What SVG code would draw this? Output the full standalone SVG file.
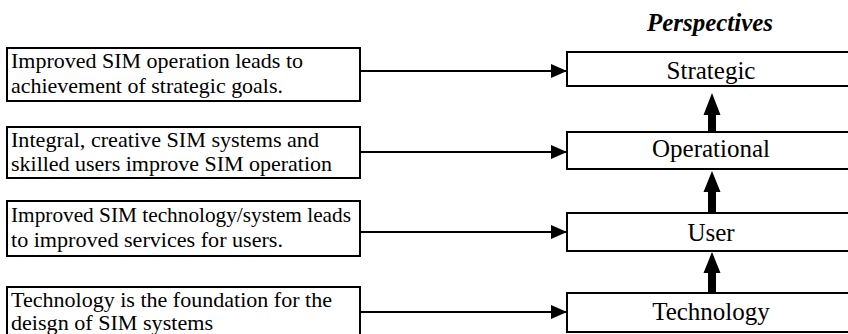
<svg xmlns="http://www.w3.org/2000/svg" width="848" height="334" viewBox="0 0 848 334">
<defs>
<style>
.box{fill:#fff;stroke:#000;stroke-width:2}
text{font-family:"Liberation Serif","Tinos","Nimbus Roman","Times New Roman","DejaVu Serif",serif;fill:#000}
.lt{font-size:22px}
.rt{font-size:25px;text-anchor:middle}
.hd{font-size:25px;font-weight:bold;font-style:italic;text-anchor:middle}
.ln{stroke:#000;stroke-width:2;fill:none}
.up{fill:#000}
</style>
<marker id="ah" markerWidth="16" markerHeight="14" refX="16" refY="7" orient="auto" markerUnits="userSpaceOnUse">
<path d="M0,0 L16,7 L0,14 Z" fill="#000"/>
</marker>
</defs>
<rect width="848" height="334" fill="#fff"/>
<text class="hd" x="710" y="31" textLength="126" lengthAdjust="spacingAndGlyphs">Perspectives</text>
<g id="d1"><rect class="box" x="7" y="48" width="353" height="53"/><text class="lt" x="11" y="68" textLength="292" lengthAdjust="spacingAndGlyphs">Improved SIM operation leads to</text><text class="lt" x="11" y="93" textLength="272" lengthAdjust="spacingAndGlyphs">achievement of strategic goals.</text></g>
<g id="d2"><rect class="box" x="7" y="127" width="353" height="51"/><text class="lt" x="11" y="147" textLength="308" lengthAdjust="spacingAndGlyphs">Integral, creative SIM systems and</text><text class="lt" x="11" y="171" textLength="321" lengthAdjust="spacingAndGlyphs">skilled users improve SIM operation</text></g>
<g id="d3"><rect class="box" x="7" y="201" width="353" height="55"/><text class="lt" x="11" y="222" textLength="340" lengthAdjust="spacingAndGlyphs">Improved SIM technology/system leads</text><text class="lt" x="11" y="247" textLength="272" lengthAdjust="spacingAndGlyphs">to improved services for users.</text></g>
<g id="d4"><rect class="box" x="7" y="287" width="353" height="52"/><text class="lt" x="11" y="307" textLength="321" lengthAdjust="spacingAndGlyphs">Technology is the foundation for the</text><text class="lt" x="11" y="330" textLength="202" lengthAdjust="spacingAndGlyphs">deisgn of SIM systems</text></g>
<g id="strategic"><rect class="box" x="567" y="52" width="290" height="34"/><text class="rt" x="711" y="79">Strategic</text></g>
<g id="operational"><rect class="box" x="567" y="132" width="290" height="37"/><text class="rt" x="711" y="157">Operational</text></g>
<g id="user"><rect class="box" x="567" y="213" width="290" height="38"/><text class="rt" x="711" y="241">User</text></g>
<g id="technology"><rect class="box" x="567" y="293" width="290" height="39"/><text class="rt" x="711" y="320">Technology</text></g>
<g id="connectors">
<line class="ln" x1="360" y1="71" x2="567" y2="71" marker-end="url(#ah)"/>
<line class="ln" x1="360" y1="152" x2="567" y2="152" marker-end="url(#ah)"/>
<line class="ln" x1="360" y1="232" x2="567" y2="232" marker-end="url(#ah)"/>
<line class="ln" x1="360" y1="312" x2="567" y2="312" marker-end="url(#ah)"/>
<path class="up" d="M708,132 V115 H703.5 L712,93 L720.5,115 H716 V132 Z"/>
<path class="up" d="M708,213 V192 H703.5 L712,171 L720.5,192 H716 V213 Z"/>
<path class="up" d="M708,293 V273 H703.5 L712,252 L720.5,273 H716 V293 Z"/>
</g>
</svg>
